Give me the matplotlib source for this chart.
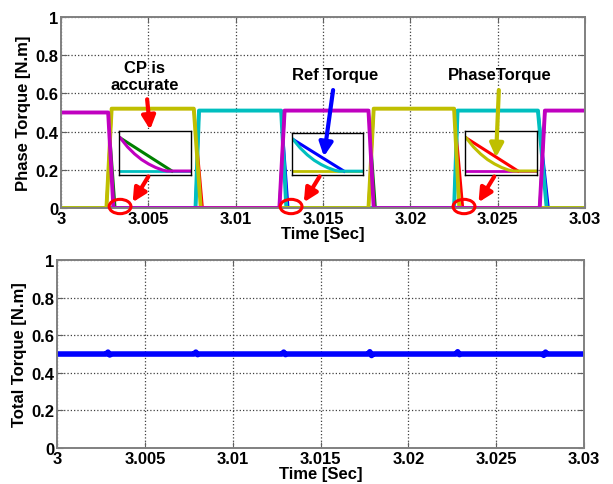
import numpy as np
import matplotlib
matplotlib.use('Agg')
import matplotlib.pyplot as plt
from matplotlib.patches import Ellipse
#=============================================================================
# phase torque waveforms (vertices)
_MAG_T  = [3.0, 3.0027, 3.0030, 3.0125, 3.0128, 3.0176, 3.0179, 3.0274, 3.0277, 3.03]
_MAG_V  = [0.50, 0.50, 0.0, 0.0, 0.51, 0.51, 0.0, 0.0, 0.51, 0.51]
_YEL_T  = [3.0, 3.0026, 3.0029, 3.0076, 3.0080, 3.0176, 3.0179, 3.0225, 3.0228, 3.03]
_YEL_V  = [0.0, 0.0, 0.52, 0.52, 0.0, 0.0, 0.52, 0.52, 0.0, 0.0]
_CYA_T  = [3.0, 3.0077, 3.0079, 3.0126, 3.0129, 3.0225, 3.0227, 3.0273, 3.0278, 3.03]
_CYA_V  = [0.0, 0.0, 0.51, 0.51, 0.0, 0.0, 0.51, 0.51, 0.0, 0.0]

# reference torques (hidden under the phase traces except at the falls)
_GRN_T  = [3.0, 3.0027, 3.0031, 3.0125, 3.0128, 3.0176, 3.0180, 3.0274, 3.0277, 3.03]
_GRN_V  = [0.50, 0.50, 0.0, 0.0, 0.51, 0.51, 0.0, 0.0, 0.51, 0.51]
_RED_T  = [3.0, 3.0026, 3.0029, 3.0076, 3.0081, 3.0176, 3.0179, 3.0225, 3.0230, 3.03]
_RED_V  = [0.0, 0.0, 0.52, 0.52, 0.0, 0.0, 0.52, 0.52, 0.0, 0.0]
_BLU_T  = [3.0, 3.0077, 3.0079, 3.0126, 3.0130, 3.0225, 3.0227, 3.0273, 3.0279, 3.03]
_BLU_V  = [0.0, 0.0, 0.51, 0.51, 0.0, 0.0, 0.51, 0.51, 0.0, 0.0]

# total torque
_TOT_T  = [3.000, 3.0028, 3.0029, 3.0030, 3.0031, 3.0078, 3.0079, 3.0080, 3.0081,
           3.0128, 3.0129, 3.0130, 3.0131, 3.0177, 3.0178, 3.0179, 3.0180,
           3.0227, 3.0228, 3.0229, 3.0230, 3.0276, 3.0277, 3.0278, 3.0279, 3.030]
_TOT_V  = [0.50, 0.50, 0.51, 0.495, 0.50, 0.50, 0.51, 0.497, 0.50,
           0.50, 0.51, 0.497, 0.50, 0.50, 0.512, 0.492, 0.50,
           0.50, 0.512, 0.497, 0.50, 0.50, 0.493, 0.51, 0.50, 0.50]

# zoomed tails shown in the insets (normalised inset units)
_ZREF_X = [0.0, 0.73]
_ZREF_Y = [0.84, 0.09]
_ZACT_X = [0.0, 0.1, 0.2, 0.3, 0.4, 0.5, 0.6, 0.66, 1.0]
_ZACT_Y = [0.84, 0.64, 0.48, 0.35, 0.25, 0.17, 0.11, 0.09, 0.09]
_ZOFF_X = [0.0, 1.0]
_ZOFF_Y = [0.09, 0.09]

_INSETS = [(3.00332, 0.173, 0.00412, 0.230, 'green', '#c000c0', '#00bfbf'),
           (3.01322, 0.173, 0.00405, 0.220, 'blue', '#00bfbf', '#bfbf00'),
           (3.02312, 0.173, 0.00413, 0.230, 'red', '#bfbf00', '#c000c0')]

_ELLIPSES = [3.00338, 3.01317, 3.02307]

_XTICKS  = [3.0, 3.005, 3.01, 3.015, 3.02, 3.025, 3.03]
_XLABELS = ['3', '3.005', '3.01', '3.015', '3.02', '3.025', '3.03']
_YTICKS  = [0, 0.2, 0.4, 0.6, 0.8, 1.0]
_YLABELS = ['0', '0.2', '0.4', '0.6', '0.8', '1']

plt.rcParams['font.family'] = ['Liberation Sans', 'DejaVu Sans']
plt.rcParams['font.weight'] = 'bold'

MAG, YEL, CYA = '#c000c0', '#bfbf00', '#00bfbf'


#-----------------------------------------------------------------------------
def style_axes(ax, ylabel):
    ax.set_xlim(3.0, 3.03)
    ax.set_ylim(0, 1)
    ax.set_xticks(_XTICKS)
    ax.set_xticklabels(_XLABELS, fontsize=12, fontweight='bold')
    ax.set_yticks(_YTICKS)
    ax.set_yticklabels(_YLABELS, fontsize=12, fontweight='bold')
    ax.tick_params(direction='in', top=True, right=True, length=4,
                   color='#606060', pad=2)
    ax.grid(True, linestyle=':', color='#404040', linewidth=0.9)
    for s in ax.spines.values():
        s.set_color('#808080')
        s.set_linewidth(1.4)
    ax.set_xlabel('Time [Sec]', fontsize=12, fontweight='bold', labelpad=0)
    ax.set_ylabel(ylabel, fontsize=12, fontweight='bold', labelpad=3)


#-----------------------------------------------------------------------------
fig = plt.figure(figsize=(6.13, 4.85), dpi=100)
ax1 = fig.add_axes([0.0995, 0.569, 0.855, 0.394])
ax2 = fig.add_axes([0.093, 0.074, 0.860, 0.388])

ax1.plot(_GRN_T, _GRN_V, color='green', lw=2.0)
ax1.plot(_RED_T, _RED_V, color='red', lw=2.0)
ax1.plot(_BLU_T, _BLU_V, color='blue', lw=2.0)
ax1.plot(_CYA_T, _CYA_V, color=CYA, lw=2.8)
ax1.plot(_YEL_T, _YEL_V, color=YEL, lw=2.8)
ax1.plot(_MAG_T, _MAG_V, color=MAG, lw=2.8)
style_axes(ax1, 'Phase Torque [N.m]')

for x0, y0, w, h, cref, cact, coff in _INSETS:
    ins = ax1.inset_axes([x0, y0, w, h], transform=ax1.transData)
    ins.plot(_ZOFF_X, _ZOFF_Y, color=coff, lw=2)
    ins.plot(_ZREF_X, _ZREF_Y, color=cref, lw=2.2)
    ins.plot(_ZACT_X, _ZACT_Y, color=cact, lw=2.2)
    ins.set_xlim(-0.02, 1.0)
    ins.set_ylim(0, 1)
    ins.set_xticks([])
    ins.set_yticks([])
    for s in ins.spines.values():
        s.set_color('black')
        s.set_linewidth(1.0)

for xc in _ELLIPSES:
    e = Ellipse((xc, 0.008), 0.00125, 0.075, fill=False, edgecolor='red',
                lw=2.2, clip_on=False, zorder=5)
    ax1.add_patch(e)

arr = dict(arrowstyle='-|>', lw=3, mutation_scale=20)
# arrows from inset bottoms to the ellipses
for xs, xe in [(3.0050, 3.0041), (3.0148, 3.0139), (3.0248, 3.0239)]:
    ax1.annotate('', xy=(xe, 0.03), xytext=(xs, 0.165), zorder=8,
                 arrowprops=dict(color='red', shrinkA=0, shrinkB=0, **arr))

ax1.annotate('CP is\naccurate', xy=(3.0051, 0.41), xytext=(3.0048, 0.69),
             ha='center', va='center', fontsize=12, fontweight='bold', zorder=8,
             arrowprops=dict(color='red', shrinkA=3, shrinkB=0, **arr))
ax1.annotate('Ref Torque', xy=(3.01505, 0.27), xytext=(3.0157, 0.70),
             ha='center', va='center', fontsize=12, fontweight='bold', zorder=8,
             arrowprops=dict(color='blue', shrinkA=4, shrinkB=0, **arr))
ax1.annotate('PhaseTorque', xy=(3.0249, 0.265), xytext=(3.0251, 0.70),
             ha='center', va='center', fontsize=12, fontweight='bold', zorder=8,
             arrowprops=dict(color=YEL, shrinkA=4, shrinkB=0, **arr))

ax2.plot(_TOT_T, _TOT_V, color='blue', lw=4)
style_axes(ax2, 'Total Torque [N.m]')

fig.savefig('out.png', dpi=100)
